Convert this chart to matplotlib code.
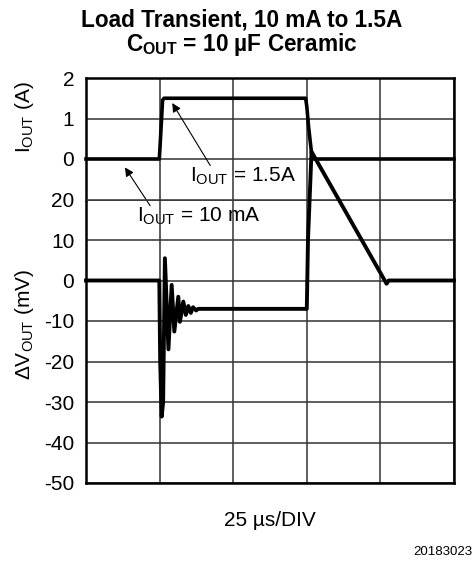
import matplotlib
matplotlib.use('Agg')
import matplotlib.pyplot as plt

plt.rcParams['font.family'] = ['Liberation Sans', 'DejaVu Sans']
plt.rcParams['mathtext.fontset'] = 'custom'
plt.rcParams['mathtext.rm'] = 'Liberation Sans'
plt.rcParams['mathtext.bf'] = 'Liberation Sans:bold'
plt.rcParams['axes.unicode_minus'] = False

# time in us (25 us/DIV, 5 divisions)
t_cur = [0, 24.9, 25.3, 26.0, 26.5, 74.6, 75.0, 75.6, 76.6, 77.3, 125]
i_out = [0, 0, 0.5, 1.45, 1.5, 1.5, 1.3, 0.8, 0.15, 0, 0]

t_v = [0, 24.9, 25.2, 25.7, 26.2, 26.8, 28.0, 29.1, 30.0, 31.35, 31.9, 33.05, 33.9,
       34.75, 35.6, 36.35, 37.4, 38.1, 75.0, 75.4, 76.6, 102.1, 102.8, 125]
dv_out = [0, 0, -20, -33.6, -30, 5.5, -17, -1.1, -12.6, -4, -10.2, -5.2, -8.5,
          -6.3, -8, -6.6, -7.4, -7, -7, 10, 31.8, -0.8, 0, 0]

x_ticks = [0, 25, 50, 75, 100, 125]
i_ticks = [0, 1, 2]
v_ticks = [-50, -40, -30, -20, -10, 0, 10, 20]

fig = plt.figure(figsize=(4.75, 5.62), dpi=100)
L, W = 86 / 475, (454 - 86) / 475
y_top, y_mid, y_bot = 1 - 78 / 562, 1 - 199.5 / 562, 1 - 483 / 562
ax_i = fig.add_axes([L, y_mid, W, y_top - y_mid])
ax_v = fig.add_axes([L, y_bot, W, y_mid - y_bot])
ax_v.patch.set_alpha(0)

grid_kw = dict(color='#333333', linewidth=1.1)
for ax in (ax_i, ax_v):
    ax.set_xlim(0, 125)
    ax.set_xticks(x_ticks)
    ax.set_xticklabels([])
    ax.grid(True, **grid_kw)
    ax.tick_params(length=0, pad=8.4, labelsize=15)
    for s in ax.spines.values():
        s.set_linewidth(1.8)

ax_i.set_ylim(-1, 2)
ax_i.set_yticks(i_ticks)
ax_i.spines['bottom'].set_visible(False)
ax_v.set_ylim(-50, 20)
ax_v.set_yticks(v_ticks)
ax_v.spines['top'].set_color('#333333')
ax_v.spines['top'].set_linewidth(1.1)

ax_i.plot(t_cur, i_out, color='black', linewidth=2.6, clip_on=False, zorder=5)
ax_v.plot(t_v, dv_out, color='black', linewidth=2.8, clip_on=False, zorder=5)

arrow_kw = dict(arrowstyle='-|>', color='black', lw=0.8, mutation_scale=13)
ax_i.annotate('', xy=(28.8, 1.44), xytext=(42.7, -0.22),
              arrowprops=arrow_kw, annotation_clip=False)
ax_i.text(35.3, -0.44, r'$\mathregular{I_{OUT}}$ = 1.5A', fontsize=15,
          va='center', ha='left')
ax_i.annotate('', xy=(12.7, -0.15), xytext=(22.3, -1.21),
              arrowprops=arrow_kw, annotation_clip=False)
ax_i.text(17.4, -1.42, r'$\mathregular{I_{OUT}}$ = 10 mA', fontsize=15,
          va='center', ha='left')

fig.text(24 / 475, 1 - 117 / 562, r'$\mathregular{I_{OUT}}$ (A)', rotation=90,
         fontsize=15, ha='center', va='center')
fig.text(24 / 475, 1 - 324 / 562, r'$\mathregular{\Delta V_{OUT}}$ (mV)', rotation=90,
         fontsize=15, ha='center', va='center')

ax_v.set_xlabel('25 µs/DIV', fontsize=15, labelpad=12)

fig.text(242 / 475, 1 - 20 / 562, 'Load Transient, 10 mA to 1.5A',
         fontsize=16.3, fontweight='bold', ha='center', va='center')
fig.text(242 / 475, 1 - 45 / 562, r'$\mathbf{C_{OUT}}$ = 10 µF Ceramic',
         fontsize=16.3, fontweight='bold', ha='center', va='center')

fig.text(472 / 475, 1 - 552 / 562, '20183023', fontsize=9.5, ha='right', va='center')

fig.savefig('out.png', dpi=100)
